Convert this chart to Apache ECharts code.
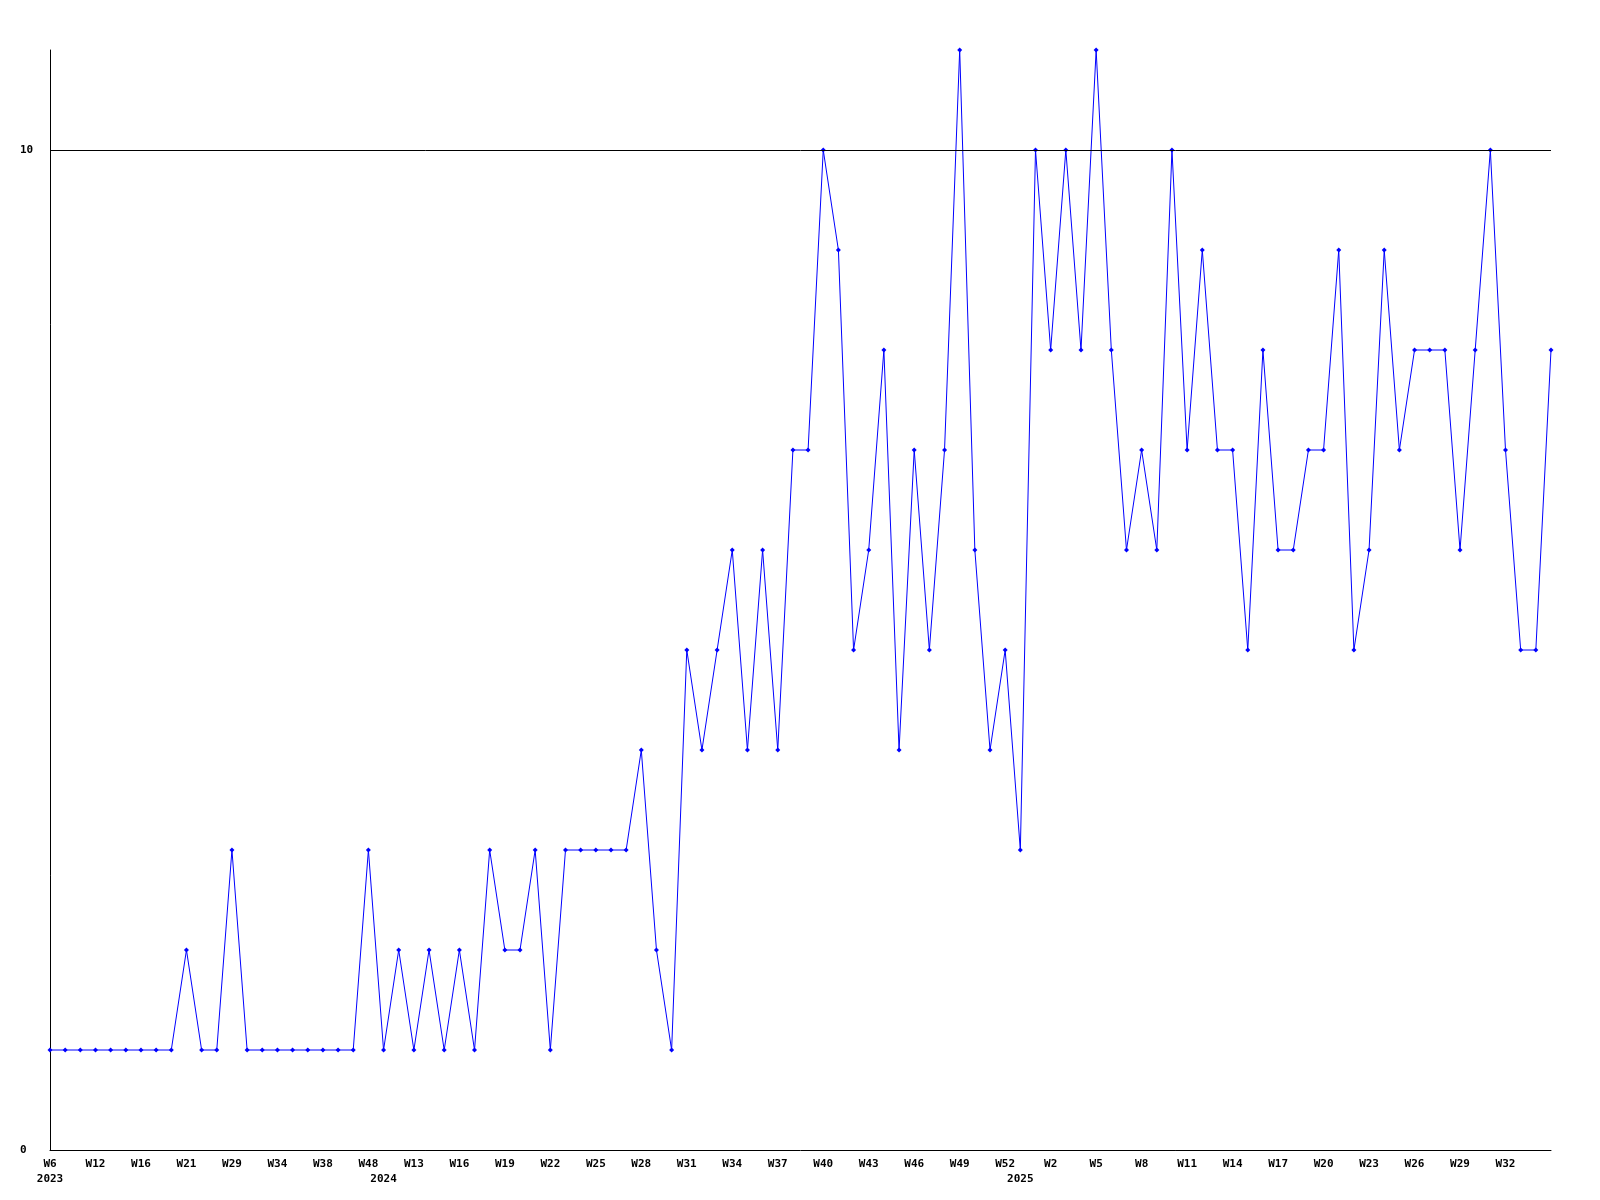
<!DOCTYPE html>
<html>
<head>
<meta charset="utf-8">
<script src="https://cdn.jsdelivr.net/npm/echarts@6/dist/echarts.min.js"></script>
<style>
html,body{margin:0;padding:0;background:#fff;}
#chart{width:1600px;height:1200px;}
</style>
</head>
<body>
<div id="chart"></div>
<script>
// Week categories (year, week). Unlabelled weeks between ticks are estimates.
const years = [
  2023,2023,2023,2023,2023,2023,2023,2023,2023,2023,2023,2023,2023,2023,2023,2023,2023,2023,2023,2023,2023,2023,
  2024,2024,2024,2024,2024,2024,2024,2024,2024,2024,2024,2024,2024,2024,2024,2024,2024,2024,2024,2024,
  2024,2024,2024,2024,2024,2024,2024,2024,2024,2024,2024,2024,2024,2024,2024,2024,2024,2024,2024,2024,2024,2024,
  2025,2025,2025,2025,2025,2025,2025,2025,2025,2025,2025,2025,2025,2025,2025,2025,2025,2025,2025,2025,
  2025,2025,2025,2025,2025,2025,2025,2025,2025,2025,2025,2025,2025,2025,2025,2025
];
const weeks = [
  6,8,10,12,13,14,16,18,19,21,23,26,29,30,32,34,35,36,38,41,45,48,
  6,10,13,14,15,16,17,18,19,20,21,22,23,24,25,26,27,28,29,30,
  31,32,33,34,35,36,37,38,39,40,41,42,43,44,45,46,47,48,49,50,51,52,
  0,1,2,3,4,5,6,7,8,9,10,11,12,13,14,15,16,17,18,19,
  20,21,22,23,24,25,26,27,28,29,30,31,32,33,34,35
];
const categories = years.map((y, i) => y + '-W' + weeks[i]);
const values = [
  1,1,1,1,1,1,1,1,1,2,1,1,3,1,1,1,1,1,1,1,1,3,
  1,2,1,2,1,2,1,3,2,2,3,1,3,3,3,3,3,4,2,1,
  5,4,5,6,4,6,4,7,7,10,9,5,6,8,4,7,5,7,11,6,4,5,
  3,10,8,10,8,11,8,6,7,6,10,7,9,7,7,5,8,6,6,7,
  7,9,5,6,9,7,8,8,8,6,8,10,7,5,5,8
];
const yTicks = [0, 10];
const refLine = 10;

function isYearStart(i) { return i === 0 || years[i] !== years[i - 1]; }
function showWeek(i) { return i % 3 === 0 && i < categories.length - 1; }

const chart = echarts.init(document.getElementById('chart'), null, {renderer: 'canvas'});
const font = 'DejaVu Sans Mono';
chart.setOption({
  animation: false,
  backgroundColor: '#ffffff',
  grid: {left: 50, right: 49, top: 50, bottom: 50, containLabel: false},
  xAxis: {
    type: 'category',
    data: categories,
    boundaryGap: false,
    axisLine: {show: true, lineStyle: {color: '#000', width: 1}},
    axisTick: {show: false},
    splitLine: {show: false},
    axisLabel: {
      interval: function (i) { return showWeek(i) || isYearStart(i); },
      formatter: function (v, i) {
        const w = showWeek(i) ? 'W' + weeks[i] : ' ';
        return isYearStart(i) ? w + '\n' + years[i] : w;
      },
      color: '#000',
      fontFamily: font,
      fontWeight: 'bold',
      fontSize: 11,
      lineHeight: 15,
      margin: 7,
      verticalAlign: 'top',
      hideOverlap: false
    }
  },
  yAxis: {
    type: 'value',
    min: 0,
    max: 11,
    interval: 10,
    axisLine: {show: true, lineStyle: {color: '#000', width: 1}},
    axisTick: {show: false},
    splitLine: {show: false},
    axisLabel: {
      showMaxLabel: false,
      formatter: function (v) { return yTicks.indexOf(v) >= 0 ? String(v) : ''; },
      color: '#000',
      fontFamily: font,
      fontWeight: 'bold',
      fontSize: 11,
      align: 'left',
      margin: 30
    }
  },
  series: [{
    type: 'line',
    data: values,
    symbol: 'diamond',
    symbolSize: 5,
    showAllSymbol: true,
    lineStyle: {color: '#0000ff', width: 1},
    itemStyle: {color: '#0000ff'},
    emphasis: {disabled: true},
    markLine: {
      silent: true,
      symbol: 'none',
      label: {show: false},
      lineStyle: {color: '#000', width: 1, type: 'solid'},
      data: [{yAxis: refLine}]
    },
    z: 3
  }]
});
</script>
</body>
</html>
